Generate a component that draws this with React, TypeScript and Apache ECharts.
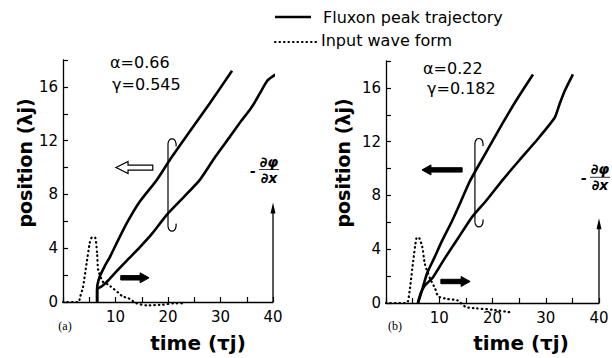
import React, { useEffect, useRef } from "react";
import * as echarts from "echarts";

// ---------- data (time τj, position λj / input amplitude) ----------
const upperA: number[][] = [[6.5,0],[6.5,1.0],[7.0,1.9],[8,2.7],[9,3.4],[10.5,4.6],[12.2,5.9],[14.5,7.4],[17.9,9.1],[20.4,10.6],[24,12.6],[28,14.8],[32.2,17.2]];
const lowerA: number[][] = [[6.5,0],[6.5,0.9],[7.5,1.2],[8.6,1.6],[10,2.2],[12.2,3.1],[14.7,4.1],[17,5.1],[19.8,6.5],[23,7.8],[26.1,9.1],[29,10.8],[31.8,12.3],[34,13.5],[35.6,14.3],[36.6,14.9],[37.9,15.8],[39,16.5],[40.8,17]];
const inputA: number[][] = [[0,0],[3,0],[3.2,0.3],[3.8,1.1],[4.5,2.9],[5.1,4.4],[5.5,4.8],[6.1,4.8],[6.5,3.6],[6.7,2.4],[7.6,1.5],[8.6,1.3],[10.5,0.7],[11.4,0.4],[12.4,0.3],[14,-0.1],[16,-0.25],[19,-0.2],[21,-0.1],[23,-0.1]];

const upperB: number[][] = [[6.0,0],[6.4,0.5],[6.8,1.0],[7.7,2.2],[9,3.3],[10.5,4.6],[12.4,6.1],[14,7.5],[15.8,9.1],[18.5,11],[21.8,13.3],[24.5,15.1],[27.6,17]];
const lowerB: number[][] = [[6.0,0],[6.5,0.7],[7.3,1.3],[8.8,1.9],[11,3.3],[13.5,4.8],[15.8,6.2],[16.8,6.7],[19,7.7],[22,9.2],[25,10.6],[28.5,12.2],[31.7,13.8],[32.6,14.8],[33.6,15.8],[35.1,17]];
const inputB: number[][] = [[0,0],[3.5,0],[4.1,0.1],[4.5,1.1],[5.1,3.1],[5.7,4.8],[6.1,4.9],[6.8,4.2],[7.3,2.9],[8.3,1.8],[9.2,1.1],[9.8,0.5],[11.5,0.3],[13.4,0.2],[15,-0.3],[17,-0.4],[20,-0.5],[23.5,-0.7]];

const xTickLabels = [10, 20, 30, 40];
const yTickLabels = [0, 4, 8, 12, 16];
const paramsA = ["α=0.66", "γ=0.545"];
const paramsB = ["α=0.22", "γ=0.182"];
const legendLabels = ["Fluxon peak trajectory", "Input wave form"];
const panelLabels = ["(a)", "(b)"];
const xTitle = "time (τj)";
const yTitle = "position (λj)";

// annotation anchors in data coordinates
const annA = { bigArrow: [17.1, 10.1, 10], smallArrow: [11.0, 16.4, 1.8], bracket: [20, 5.6, 11.8], axisArrowTop: 7.4 };
const annB = { bigArrow: [14.3, 6.75, 9.9], smallArrow: [10.3, 15.8, 1.6], bracket: [16.7, 6.0, 11.9], axisArrowTop: 6.3 };

const FONT = '"DejaVu Sans", "Liberation Sans", sans-serif';

export default function App() {
  const ref = useRef<HTMLDivElement>(null);
  useEffect(() => {
    const chart = echarts.init(ref.current!, null, { renderer: "svg" });
    const grids = [
      { left: 63, top: 60, width: 210, height: 242 },
      { left: 386, top: 61, width: 213, height: 242 },
    ];
    const xAxis = grids.map((_, i) => ({
      gridIndex: i, type: "value", min: 0, max: 40, interval: 5,
      axisLine: { show: true, lineStyle: { color: "#000", width: 1.3 } },
      axisTick: { show: true, inside: true, length: 5, lineStyle: { color: "#000", width: 1.2 } },
      axisLabel: { formatter: (v: number) => (xTickLabels.includes(v) ? String(v) : ""), color: "#000", fontSize: 15, fontFamily: FONT, margin: 7 },
      splitLine: { show: false },
    }));
    const yAxis = grids.map((_, i) => ({
      gridIndex: i, type: "value", min: 0, max: 18, interval: 2,
      axisLine: { show: true, lineStyle: { color: "#000", width: 1.3 } },
      axisTick: { show: true, inside: true, length: 5, lineStyle: { color: "#000", width: 1.2 } },
      axisLabel: { formatter: (v: number) => (yTickLabels.includes(v) ? String(v) : ""), color: "#000", fontSize: 15, fontFamily: FONT, margin: 5 },
      splitLine: { show: false },
    }));
    const solid = (data: number[][], i: number) => ({
      type: "line", xAxisIndex: i, yAxisIndex: i, data, symbol: "none", clip: false, smooth: 0.2,
      lineStyle: { color: "#000", width: 2.6 },
    });
    const dotted = (data: number[][], i: number) => ({
      type: "line", xAxisIndex: i, yAxisIndex: i, data, symbol: "none", clip: false, smooth: 0.2,
      lineStyle: { color: "#000", width: 2.2, type: [0.5, 4], cap: "round" },
    });
    chart.setOption({
      animation: false,
      grid: grids,
      xAxis, yAxis,
      series: [solid(upperA, 0), solid(lowerA, 0), dotted(inputA, 0), solid(upperB, 1), solid(lowerB, 1), dotted(inputB, 1)],
    });

    const px = (g: number, t: number, v: number) => chart.convertToPixel({ gridIndex: g }, [t, v]) as number[];
    const black = "#000";
    const g: any[] = [];
    const text = (t: string, x: number, y: number, font: string, align = "left", rot = 0) =>
      g.push({ type: "text", x, y, rotation: rot, style: { text: t, font, fill: black, align, verticalAlign: "middle" } });

    const hArrow = (gi: number, a: number[], hollow: boolean) => {
      const [t0, t1, v] = a;
      const p0 = px(gi, t0, v), p1 = px(gi, t1, v);
      const y = p0[1];
      const dir = p1[0] > p0[0] ? 1 : -1;
      const h = hollow ? 2.5 : 2.2, H = hollow ? 6 : 5, L = hollow ? 12 : 9;
      const b = p1[0] - dir * L;
      g.push({
        type: "polygon",
        shape: { points: [[p0[0], y - h], [b, y - h], [b, y - H], [p1[0], y], [b, y + H], [b, y + h], [p0[0], y + h]] },
        style: { fill: hollow ? "#fff" : black, stroke: black, lineWidth: hollow ? 1.2 : 1 },
      });
    };
    const bracket = (gi: number, a: number[]) => {
      const [t, v0, v1] = a;
      const pb = px(gi, t, v0), pt = px(gi, t, v1);
      const x = pb[0], yb = pb[1], yt = pt[1];
      g.push({ type: "line", shape: { x1: x, y1: yb, x2: x, y2: yt }, style: { stroke: black, lineWidth: 1.2 } });
      g.push({ type: "polyline", shape: { points: [[x, yt], [x + 1.5, yt - 3.5], [x + 4, yt - 4.5], [x + 6.5, yt - 3.5], [x + 8, yt], [x + 8, yt + 3]], smooth: 0.5 }, style: { stroke: black, lineWidth: 1.2, fill: "none" } });
      g.push({ type: "polyline", shape: { points: [[x, yb], [x + 1.5, yb + 3.5], [x + 4, yb + 4.5], [x + 6.5, yb + 3.5], [x + 8, yb], [x + 8, yb - 3]], smooth: 0.5 }, style: { stroke: black, lineWidth: 1.2, fill: "none" } });
    };
    const vArrow = (gi: number, top: number) => {
      const p0 = px(gi, 40, 0), p1 = px(gi, 40, top);
      const x = p0[0];
      g.push({ type: "line", shape: { x1: x, y1: p0[1], x2: x, y2: p1[1] + 6 }, style: { stroke: black, lineWidth: 1.3 } });
      g.push({ type: "polygon", shape: { points: [[x - 2.5, p1[1] + 11], [x, p1[1]], [x + 2.5, p1[1] + 11]] }, style: { fill: black } });
      return [x, p1[1]];
    };
    const dphi = (x: number, y: number) => {
      const f = 'bold italic 14px ' + FONT;
      text("-", x - 16, y + 1, f, "center");
      text("∂φ", x, y - 8, f, "center");
      g.push({ type: "line", shape: { x1: x - 10, y1: y, x2: x + 10, y2: y }, style: { stroke: black, lineWidth: 0.8 } });
      text("∂x", x, y + 8, f, "center");
    };

    hArrow(0, annA.bigArrow, true);
    hArrow(0, annA.smallArrow, false);
    bracket(0, annA.bracket);
    const ta = vArrow(0, annA.axisArrowTop);
    dphi(ta[0] - 4, ta[1] - 33);

    hArrow(1, annB.bigArrow, false);
    hArrow(1, annB.smallArrow, false);
    bracket(1, annB.bracket);
    const tb = vArrow(1, annB.axisArrowTop);
    dphi(tb[0] + 1, tb[1] - 41);

    // parameters
    const pf = '16px ' + FONT;
    text(paramsA[0], 110, 62, pf);
    text(paramsA[1], 112, 84, pf);
    text(paramsB[0], 423, 68, pf);
    text(paramsB[1], 427, 88, pf);

    // axis titles
    text(yTitle, 25, 163, 'bold 19px ' + FONT, "center", Math.PI / 2);
    text(yTitle, 343, 163, 'bold 19px ' + FONT, "center", Math.PI / 2);
    text(xTitle, 198, 343, 'bold 20px ' + FONT, "center");
    text(xTitle, 521, 343, 'bold 20px ' + FONT, "center");

    // panel labels
    text(panelLabels[0], 65, 326, '12px "Liberation Serif", serif', "center");
    text(panelLabels[1], 395, 326, '12px "Liberation Serif", serif', "center");

    // legend
    g.push({ type: "line", shape: { x1: 275, y1: 17, x2: 311, y2: 17 }, style: { stroke: black, lineWidth: 2.4 } });
    text(legendLabels[0], 323, 17, '16px ' + FONT);
    g.push({ type: "line", shape: { x1: 275, y1: 42, x2: 318, y2: 42 }, style: { stroke: black, lineWidth: 2.2, lineDash: [0.5, 4], lineCap: "round" } });
    text(legendLabels[1], 321, 40, '16px ' + FONT);

    chart.setOption({ graphic: g });
    return () => chart.dispose();
  }, []);
  return <div ref={ref} style={{ position: "fixed", left: 0, top: 0, width: 612, height: 358, background: "#fff" }} />;
}
